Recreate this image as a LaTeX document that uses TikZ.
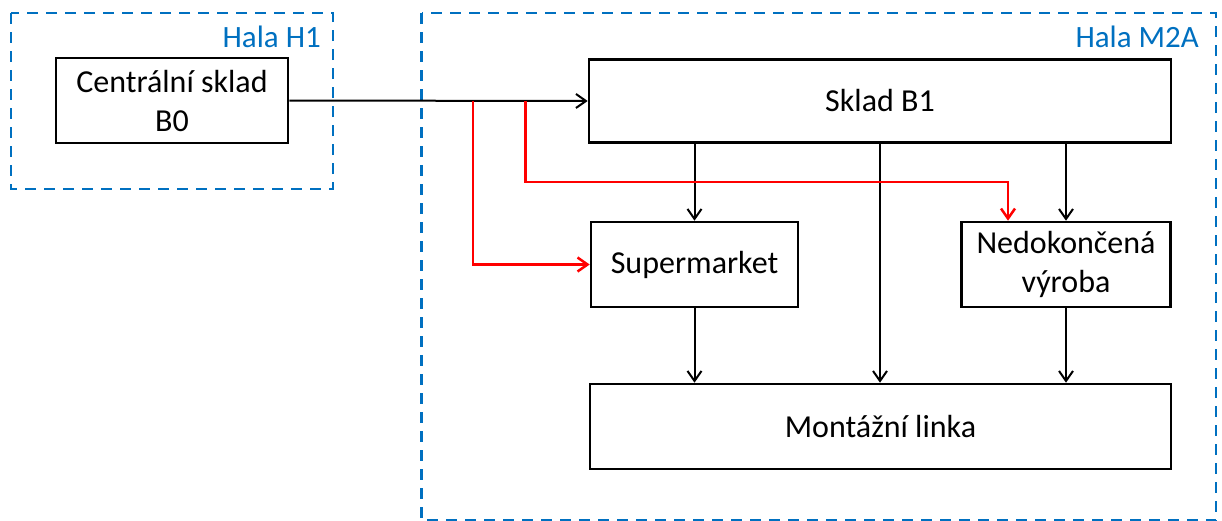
\documentclass[tikz,border=0pt]{standalone}
\usepackage{fontspec}
\setmainfont{Carlito}
\usetikzlibrary{arrows.meta}
\definecolor{halablue}{HTML}{0070C0}
\definecolor{flowred}{HTML}{FF0000}
\begin{document}
\begin{tikzpicture}[x=1pt,y=-1pt,
  block/.style={draw, line width=2.6pt, inner sep=0pt, align=center,
    font=\fontsize{32}{39}\selectfont},
  hall/.style={draw=halablue, line width=2.4pt, dash pattern=on 11pt off 8pt},
  halllabel/.style={text=halablue, inner sep=0pt, anchor=base east,
    font=\fontsize{31}{37}\selectfont},
  flow/.style={line width=2pt, -{Straight Barb[length=10pt,width=14pt,line width=2pt]}},
  redflow/.style={flow, draw=flowred, line width=2.5pt,
    -{Straight Barb[length=10pt,width=14pt,line width=2.5pt]}}]
  \useasboundingbox (0,0) rectangle (1222,520);

  % production halls
  \draw[hall] (11,13) rectangle (333,189);
  \draw[hall] (421.5,13) rectangle (1216,520.5);
  \node[halllabel] (h1) at (321,47) {Hala H1};
  \node[halllabel] (m2a) at (1199,47) {Hala M2A};

  % storage and production blocks
  \node[block, minimum width=232pt, minimum height=85pt] (c0) at (172,100.5) {Centrální sklad\\B0};
  \node[block, minimum width=582pt, minimum height=83pt] (b1) at (880,101) {Sklad B1};
  \node[block, minimum width=207pt, minimum height=85pt] (sm) at (694.5,264.5) {Supermarket};
  \node[block, minimum width=209pt, minimum height=85pt] (nv) at (1066,264.5) {Nedokončená\\výroba};
  \node[block, minimum width=581pt, minimum height=85pt] (ml) at (880.5,426.5) {Montážní linka};

  % branch points on the supply line
  \coordinate (j1) at (473,101);
  \coordinate (j2) at (525.6,101);
  \coordinate (r2) at (525.6,182);

  % material flows
  \draw[flow] (c0.east) -- (b1.west);
  \draw[flow] (b1.south -| sm.north) -- (sm.north);
  \draw[flow] (b1.south) -- (b1.south |- ml.north);
  \draw[flow] (b1.south -| nv.north) -- (nv.north);
  \draw[flow] (sm.south) -- (sm.south |- ml.north);
  \draw[flow] (nv.south) -- (nv.south |- ml.north);

  % direct deliveries bypassing Sklad B1
  \draw[redflow] (j1) |- (sm.west);
  \draw[redflow] (j2) -- (r2) -| ([xshift=-58pt]nv.north);
\end{tikzpicture}
\end{document}
